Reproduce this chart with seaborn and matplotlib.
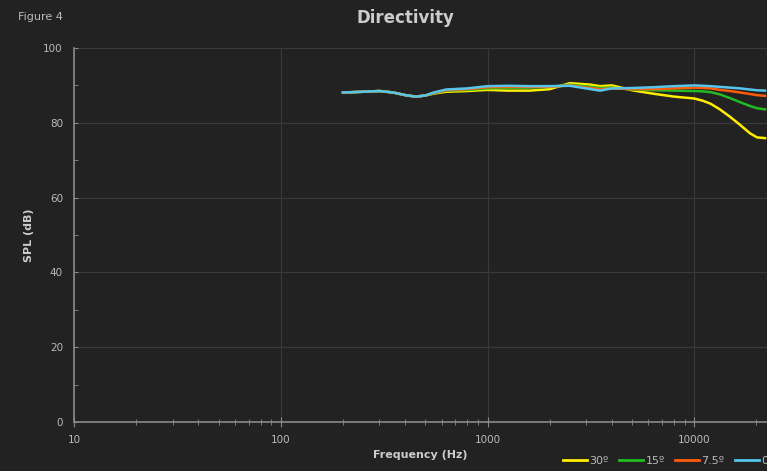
import pandas as pd
import matplotlib.pyplot as plt
import seaborn as sns
from matplotlib.ticker import LogLocator, NullFormatter, MultipleLocator, FuncFormatter

freq = [200, 250, 300, 350, 400, 450, 500, 550, 630, 800, 1000, 1250, 1600, 2000, 2500,
        3150, 3500, 4000, 5000, 6300, 8000, 10000, 11000, 12000, 13300, 14900, 16700,
        18600, 20100, 22000]

spl_30 = [88.1, 88.3, 88.5, 88.1, 87.4, 87.0, 87.3, 87.8, 88.3, 88.5, 88.8, 88.6, 88.6,
          89.0, 90.6, 90.2, 89.8, 90.0, 88.7, 87.8, 87.0, 86.5, 85.9, 85.1, 83.6, 81.6,
          79.4, 77.2, 76.1, 75.9]
spl_15 = [88.1, 88.3, 88.5, 88.1, 87.4, 87.0, 87.3, 87.9, 88.6, 88.8, 89.2, 89.3, 89.4,
          89.6, 90.2, 89.6, 89.3, 89.4, 88.9, 88.7, 88.6, 88.5, 88.4, 88.2, 87.6, 86.6,
          85.5, 84.5, 83.9, 83.6]
spl_7_5 = [88.1, 88.3, 88.5, 88.1, 87.4, 87.0, 87.3, 88.0, 88.7, 89.0, 89.5, 89.6, 89.6,
           89.6, 90.0, 89.3, 89.0, 89.2, 89.0, 89.0, 89.2, 89.4, 89.3, 89.2, 88.8, 88.5,
           88.1, 87.7, 87.4, 87.2]
spl_0 = [88.1, 88.3, 88.5, 88.1, 87.4, 87.0, 87.3, 88.1, 88.9, 89.2, 89.8, 89.9, 89.8,
         89.8, 89.9, 89.0, 88.6, 89.2, 89.3, 89.5, 89.8, 90.0, 89.9, 89.8, 89.6, 89.4,
         89.2, 88.9, 88.7, 88.6]

labels = ["30º", "15º", "7.5º", "0º"]
colors = ["#ffee00", "#22bb22", "#ff5a0a", "#55c5ee"]

df = pd.DataFrame({
    "freq": freq * 4,
    "spl": spl_30 + spl_15 + spl_7_5 + spl_0,
    "angle": sum([[l] * len(freq) for l in labels], []),
})

bg = "#222222"
plt.rcParams["font.family"] = ["DejaVu Sans"]

fig = plt.figure(figsize=(7.67, 4.71), dpi=100, facecolor=bg)
ax = fig.add_axes([74 / 767, 1 - 422 / 471, 827 / 767, 374 / 471])
ax.set_facecolor(bg)

sns.lineplot(data=df, x="freq", y="spl", hue="angle", hue_order=labels,
             palette=colors, linewidth=1.8, ax=ax, legend=False)

ax.set_xscale("log")
ax.set_xlim(10, 100000)
ax.set_ylim(0, 100)

ax.xaxis.set_major_locator(LogLocator(base=10))
ax.xaxis.set_minor_locator(LogLocator(base=10, subs=range(2, 10)))
ax.xaxis.set_major_formatter(FuncFormatter(lambda v, p: f"{v:.0f}" if v < 50000 else ""))
ax.xaxis.set_minor_formatter(NullFormatter())
ax.yaxis.set_major_locator(MultipleLocator(20))
ax.yaxis.set_minor_locator(MultipleLocator(10))

ax.grid(True, which="major", color="#3a3a3a", linewidth=0.8)
ax.set_axisbelow(True)
for s in ["top", "right"]:
    ax.spines[s].set_visible(False)
for s in ["left", "bottom"]:
    ax.spines[s].set_color("#8a8a8a")
    ax.spines[s].set_linewidth(1.2)

ax.tick_params(axis="x", which="both", direction="inout", colors="#8a8a8a",
               labelcolor="#bbbbbb", labelsize=7.5, pad=6)
ax.tick_params(axis="x", which="major", length=7)
ax.tick_params(axis="x", which="minor", length=5)
ax.tick_params(axis="y", which="both", direction="in", colors="#8a8a8a",
               labelcolor="#bbbbbb", labelsize=7.5, length=3, pad=8)

ax.set_xlabel("Frequency (Hz)", color="#cccccc", fontsize=8, fontweight="bold")
ax.set_ylabel("SPL (dB)", color="#cccccc", fontsize=8, fontweight="bold")
ax.xaxis.set_label_coords((420 - 74) / 827, -28 / 374)
ax.yaxis.set_label_coords(-40 / 827, 0.5)

fig.text(405 / 767, 1 - 18 / 471, "Directivity", color="#cccccc", fontsize=12,
         fontweight="bold", ha="center", va="center")
fig.text(18 / 767, 1 - 17 / 471, "Figure 4", color="#bbbbbb", fontsize=8,
         ha="left", va="center")

handles = [plt.Line2D([], [], color=c, linewidth=2) for c in colors]
fig.legend(handles, labels, loc="center left", bbox_to_anchor=(553 / 767, 1 - 461 / 471),
           ncol=4, frameon=False, fontsize=8, labelcolor="#bbbbbb",
           handlelength=2.2, handletextpad=0.2, columnspacing=0.9)

fig.savefig("out.png", dpi=100, facecolor=bg)
